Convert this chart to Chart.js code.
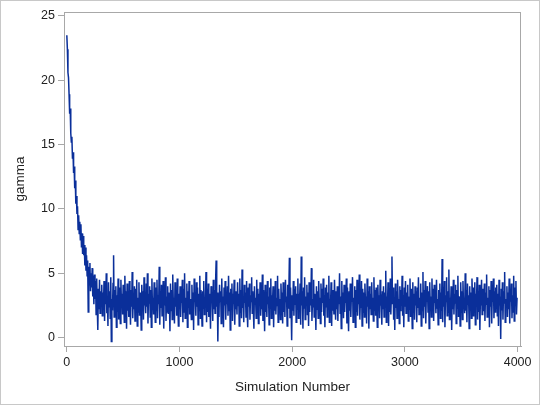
<!DOCTYPE html>
<html>
<head>
<meta charset="utf-8">
<script src="https://cdn.jsdelivr.net/npm/chart.js@4"></script>
<style>
  html, body { margin: 0; padding: 0; background: #fff; }
  #wrap { width: 540px; height: 405px; box-sizing: border-box; border: 1px solid #c8c8c8; }
</style>
</head>
<body>
<div id="wrap"><canvas id="trace" width="538" height="403"></canvas></div>
<script>
// gamma trace, one value per 5 simulations
const simStep = 5
// burn-in, simulations 0..300
const burnIn = [23.5, 22.4, 20.6, 20.2, 18.9, 17.4, 17.8, 15.9, 15.2, 15.6,
  13.9, 14.4, 12.8, 13.3, 11.6, 12.2, 10.4, 11.0, 9.6, 10.2,
  8.4, 9.5, 8.1, 9.0, 7.6, 8.8, 7.0, 8.1, 6.5, 7.9,
  6.4, 7.2, 5.6, 7.0, 5.2, 6.4, 4.8, 6.0, 2.0, 5.5,
  4.1, 5.8, 3.6, 5.0, 3.9, 5.4, 3.2, 4.8, 2.6, 4.9,
  3.0, 4.4, 1.8, 4.6, 2.4, 0.6, 3.8, 2.2, 4.5, 1.9, 3.6]
// after burn-in, simulations 305..3995
const settled = [
  2.9, 4.1, 1.7, 3.5, 2.2, 4.4, 1.3, 3.8, 2.6, 5.0, 1.9, 3.2, 0.9, 4.3, 2.4, 3.6, 1.5, 4.7, -0.3, 3.0,
  2.1, 4.2, 6.4, 1.6, 3.7, 2.5, 4.0, 0.8, 3.3, 2.0, 4.6, 1.4, 3.9, 2.7, 1.1, 4.5, 2.3, 3.4, 1.8, 4.1,
  3.0, 1.2, 4.8, 2.5, 3.6, 0.7, 4.2, 2.1, 3.3, 1.6, 4.4, 2.8, 1.0, 3.7, 2.4, 5.1, 1.5, 3.2, 2.2, 4.0,
  1.3, 3.8, 2.6, 4.5, 0.9, 3.1, 2.0, 4.3, 1.7, 3.5, 2.9, 0.6, 4.1, 2.3, 3.6, 1.4, 4.7, 2.5, 3.0, 1.9,
  4.2, 2.4, 5.0, 1.1, 3.4, 2.7, 4.0, 1.6, 3.7, 0.8, 4.6, 2.2, 3.1, 1.8, 4.3, 2.9, 1.2, 3.9, 2.1, 4.5,
  1.5, 3.3, 2.6, 5.5, 1.0, 3.6, 2.3, 4.1, 1.7, 3.0, 4.4, 0.7, 3.8, 2.5, 4.7, 1.3, 3.2, 2.0, 4.0, 1.9,
  3.5, 2.8, 0.5, 4.2, 2.1, 3.7, 1.4, 4.9, 2.6, 3.1, 1.1, 4.3, 2.4, 3.6, 1.7, 4.6, 2.9, 0.9, 3.4, 2.2,
  4.0, 1.6, 3.3, 2.7, 4.5, 1.2, 3.8, 2.0, 5.0, 1.5, 3.1, 2.5, 4.2, 0.8, 3.6, 2.3, 4.4, 1.8, 3.0, 2.6,
  1.4, 4.1, 2.2, 3.5, 0.6, 4.6, 2.8, 3.2, 1.7, 4.3, 2.4, 3.9, 1.0, 3.4, 2.1, 4.8, 1.5, 3.7, 2.6, 0.9,
  3.6, 2.3, 4.4, 1.8, 3.1, 2.7, 5.1, 1.2, 3.8, 2.0, 4.2, 1.6, 3.4, 2.5, 0.7, 4.0, 2.9, 3.3, 1.3, 4.5,
  2.2, 3.7, 1.9, 4.3, 6.0, 2.4, 3.5, -0.3, 3.0, 1.6, 4.1, 2.8, 3.6, 1.1, 4.6, 2.0, 3.2, 0.8, 3.9, 2.5,
  4.4, 1.4, 3.3, 2.6, 4.0, 1.7, 4.8, 2.1, 3.5, 0.6, 3.8, 2.4, 4.2, 1.3, 3.1, 2.9, 4.5, 1.0, 3.6, 2.2,
  3.0, 1.8, 4.3, 2.5, 3.4, 0.9, 4.6, 2.0, 3.7, 1.5, 5.3, 2.3, 3.2, 1.2, 4.1, 2.7, 3.5, 1.6, 4.4, 2.1,
  0.8, 3.9, 2.4, 4.2, 1.4, 3.3, 2.8, 4.7, 1.9, 3.6, 2.2, 0.7, 4.0, 2.6, 3.1, 1.5, 4.5, 2.0, 3.8, 1.1,
  3.4, 2.5, 4.3, 1.7, 3.0, 2.2, 4.9, 1.3, 3.7, 2.8, 0.5, 4.1, 2.0, 3.5, 1.6, 4.4, 2.6, 3.2, 1.0, 3.9,
  2.3, 4.6, 1.5, 3.3, 2.7, 4.0, 0.8, 3.6, 2.1, 4.4, 1.8, 3.1, 2.5, 4.8, 1.2, 3.8, 2.4, 3.0, 1.4, 4.2,
  2.6, 3.5, 1.1, 4.3, 2.0, 3.7, 1.6, 4.5, 2.8, 3.2, 0.9, 4.1, 2.3, 3.6, 6.2, 1.5, 3.9, 2.4, -0.2, 3.3,
  2.1, 4.4, 1.7, 3.8, 2.6, 4.0, 1.2, 3.4, 2.2, 4.6, 1.5, 3.1, 2.9, 4.2, 1.0, 6.3, 2.5, 3.6, 0.7, 3.9,
  2.3, 4.7, 1.4, 3.2, 2.7, 4.1, 1.8, 3.5, 0.9, 4.3, 2.0, 3.7, 2.5, 5.4, 1.3, 3.0, 2.4, 4.5, 1.6, 3.4,
  2.8, 0.6, 4.0, 2.2, 3.6, 1.5, 4.4, 2.6, 3.1, 1.1, 4.2, 2.0, 3.8, 2.7, 4.6, 1.7, 3.3, 0.8, 3.9, 2.4,
  4.1, 1.6, 3.5, 2.3, 4.8, 1.2, 3.0, 2.5, 4.3, 0.9, 3.7, 2.1, 3.4, 1.8, 4.5, 2.8, 1.4, 3.6, 2.2, 4.0,
  1.3, 3.8, 2.6, 5.0, 1.9, 3.2, 0.7, 4.4, 2.4, 3.5, 1.5, 4.1, 2.0, 3.3, 2.7, 4.6, 1.1, 3.9, 2.3, 0.5,
  3.6, 2.1, 4.2, 1.6, 3.4, 2.8, 4.7, 1.2, 3.1, 2.4, 4.0, 0.8, 3.7, 2.0, 4.5, 1.7, 3.3, 2.6, 4.9, 1.4,
  3.0, 2.3, 4.4, 0.9, 3.8, 2.0, 3.5, 1.6, 4.2, 2.7, 3.2, 1.1, 4.6, 2.4, 3.6, 0.7, 4.0, 2.2, 3.4, 1.8,
  4.3, 2.5, 3.1, 1.3, 4.7, 2.1, 3.7, 1.7, 3.9, 2.6, 0.8, 4.1, 2.3, 3.3, 1.5, 4.5, 2.8, 3.0, 1.0, 3.6,
  2.2, 4.0, 1.6, 3.5, 2.7, 5.2, 1.2, 3.2, 2.4, 4.3, 0.9, 3.8, 2.0, 4.6, 1.8, 3.4, 6.3, 2.6, 3.9, 1.4,
  3.1, 0.6, 4.2, 2.3, 3.6, 1.5, 4.5, 2.8, 3.0, 1.1, 4.0, 2.1, 3.7, 2.5, 4.8, 1.7, 3.3, 0.8, 3.9, 2.4,
  4.4, 1.9, 3.5, 2.6, 4.1, 1.3, 3.2, 2.2, 4.6, 1.6, 3.8, 2.9, 0.7, 4.3, 2.0, 3.4, 1.4, 4.0, 2.5, 3.6,
  1.2, 3.9, 2.3, 4.7, 1.8, 3.1, 2.7, 4.2, 0.9, 3.5, 2.1, 5.1, 1.5, 3.7, 2.4, 4.4, 1.1, 3.3, 2.8, 4.0,
  2.0, 3.6, 0.7, 4.3, 2.5, 3.2, 1.6, 4.6, 2.2, 3.8, 1.3, 4.1, 2.7, 3.4, 1.9, 4.5, 2.3, 3.0, 1.0, 3.7,
  2.6, 4.2, 1.5, 3.5, 2.1, 6.1, 1.2, 3.9, 2.4, 4.4, 0.8, 3.3, 2.8, 4.7, 1.7, 3.6, 2.0, 5.3, 1.4, 3.1,
  2.5, 4.0, 0.6, 3.8, 2.2, 4.5, 1.8, 3.4, 2.7, 4.1, 1.1, 3.7, 2.3, 4.8, 1.6, 3.2, 2.9, 0.9, 4.3, 2.0,
  3.6, 1.4, 4.4, 2.4, 3.1, 1.9, 5.0, 2.1, 3.7, 1.2, 4.2, 2.6, 3.3, 0.7, 4.0, 2.2, 3.5, 1.5, 4.6, 2.8,
  1.7, 3.9, 2.3, 4.3, 1.0, 3.4, 2.7, 4.7, 1.4, 3.6, 2.0, 4.1, 0.6, 3.2, 2.5, 4.5, 1.8, 3.8, 2.1, 3.0,
  4.2, 1.3, 3.5, 2.6, 4.9, 1.6, 3.1, 2.2, 4.0, 0.8, 3.7, 2.4, 4.4, 1.1, 3.3, 2.8, 4.6, 1.5, 3.6, 2.0,
  3.9, 2.3, 4.1, 1.7, 3.4, 0.9, 4.5, 2.5, 3.2, -0.1, 3.8, 2.1, 4.3, 1.4, 3.6, 2.7, 5.1, 1.2, 3.0, 2.4,
  4.0, 1.6, 3.5, 2.2, 4.6, 1.1, 3.7, 2.8, 4.2, 1.5, 3.3, 2.0, 4.8, 1.3, 3.9, 2.5, 4.4, 1.8, 3.1]

const xTicks = [0, 1000, 2000, 3000, 4000]
const yTicks = [0, 5, 10, 15, 20, 25]

const gamma = burnIn.concat(settled)
let points = []
for (let i = 0; i < gamma.length; i++) {
    points.push({ x: i * simStep, y: gamma[i] })
}

const axisGray = "#a8a8a8"
const textColor = "#222222"

// gray box round the plot area
const frame = {
    id: "frame",
    afterDraw(chart) {
        const a = chart.chartArea
        const ctx = chart.ctx
        ctx.save()
        ctx.strokeStyle = axisGray
        ctx.lineWidth = 1
        ctx.strokeRect(Math.round(a.left) + 0.5, Math.round(a.top) + 0.5,
            Math.round(a.right - a.left) - 1, Math.round(a.bottom - a.top))
        ctx.restore()
    }
}

new Chart(document.getElementById("trace"), {
    type: "line",
    data: {
        datasets: [{
            data: points,
            borderColor: "#0a2f9a",
            borderWidth: 1.5,
            pointRadius: 0,
            tension: 0,
            fill: false
        }]
    },
    options: {
        responsive: false,
        animation: false,
        parsing: false,
        layout: { padding: { left: 11, top: 11, right: 18, bottom: 9 } },
        plugins: { legend: { display: false }, tooltip: { enabled: false } },
        scales: {
            x: {
                type: "linear",
                min: -25,
                max: 4030,
                afterBuildTicks: (s) => { s.ticks = xTicks.map(v => ({ value: v })) },
                afterFit: (s) => { s.height = 49 },
                grid: { drawOnChartArea: false, color: axisGray, tickLength: 6 },
                border: { color: axisGray },
                ticks: { color: textColor, font: { family: "Liberation Sans", size: 12.5 }, padding: 3, maxRotation: 0,
                    callback: (v) => String(v) },
                title: { display: true, text: "Simulation Number", color: textColor, font: { family: "Liberation Sans", size: 13.5 }, padding: 0 }
            },
            y: {
                min: -0.65,
                max: 25.3,
                afterBuildTicks: (s) => { s.ticks = yTicks.map(v => ({ value: v })) },
                afterFit: (s) => { s.width = 52 },
                grid: { drawOnChartArea: false, color: axisGray, tickLength: 6 },
                border: { color: axisGray },
                ticks: { color: textColor, font: { family: "Liberation Sans", size: 12.5 }, padding: 3,
                    callback: (v) => String(v) },
                title: { display: true, text: "gamma", color: textColor, font: { family: "Liberation Sans", size: 13.5 }, padding: 0 }
            }
        }
    },
    plugins: [frame]
})
</script>
</body>
</html>
